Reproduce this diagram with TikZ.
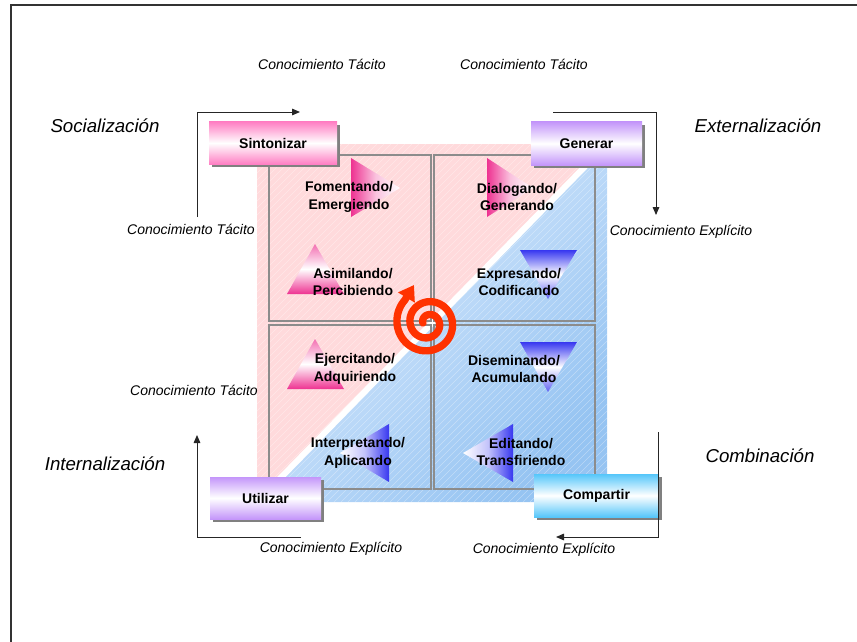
\documentclass[tikz,border=0pt]{standalone}
\usepackage{fontspec}
\setmainfont{Liberation Sans}
\usetikzlibrary{arrows.meta,shadows}

\definecolor{pinkbg}{RGB}{255,218,220}
\definecolor{bluelight}{RGB}{228,240,255}
\definecolor{bluedark}{RGB}{150,196,242}
\definecolor{gridgray}{RGB}{140,140,140}
\definecolor{shadowgray}{RGB}{128,128,128}
\definecolor{hotpink}{RGB}{238,50,145}
\definecolor{violetblue}{RGB}{55,55,240}
\definecolor{spiralred}{RGB}{255,50,0}
\definecolor{boxpink}{RGB}{255,128,196}
\definecolor{boxviolet}{RGB}{196,150,250}
\definecolor{boxcyan}{RGB}{85,198,250}

\begin{document}
\begin{tikzpicture}[x=0.75pt,y=0.75pt,yscale=-1,xscale=1,
  tag/.style={font=\fontsize{10.5}{12}\selectfont\itshape, inner sep=0.75pt},
  mode/.style={font=\fontsize{14}{16}\selectfont\itshape, inner sep=0.75pt},
  task/.style={font=\fontsize{10.5}{13}\selectfont\bfseries, align=center, inner sep=0.75pt},
  modebox/.style={font=\fontsize{10.5}{12}\selectfont\bfseries, inner sep=0pt,
    drop shadow={shadow xshift=2.2pt,shadow yshift=-2.2pt,fill=shadowgray,opacity=1}},
  flow/.style={draw=black!85, line width=0.7pt, -{Triangle[length=6pt,width=5pt]}},
  quad/.style={draw=gridgray, line width=1.4pt},
]
\useasboundingbox (0,0) rectangle (857,642);

%Frame
\draw [line width=1.5pt, black!80] (11,642) -- (11,5) -- (857,5) ;

%Background: pink and blue halves
\begin{scope}
\clip (257,144) rectangle (607,502);
\fill [pinkbg] (257,144) rectangle (607,502);
\shade [top color=bluelight, bottom color=bluedark, shading angle=45] (257,502) -- (607,144) -- (607,502) -- cycle;
\foreach \k in {-364,-357,...,364}
  \draw [white, opacity=0.35, line width=0.4pt] (257+\k,502) -- ++(358,-358);
\draw [white, line width=4.5pt] (257,502) -- (607,144);
\end{scope}

%Quadrants
\draw [quad] (269,155) rectangle (431,321);
\draw [quad] (434,155) rectangle (595,321);
\draw [quad] (269,325) rectangle (431,489);
\draw [quad] (434,325) rectangle (595,489);

%Triangles
\shade [left color=hotpink, right color=white, middle color=hotpink!30] (351,158) -- (351,217) -- (400,188) -- cycle;
\shade [left color=hotpink, right color=white, middle color=hotpink!30] (487,158) -- (487,217) -- (533,188) -- cycle;
\shade [top color=hotpink!70, bottom color=hotpink, middle color=white] (315,244) -- (344,294) -- (287,294) -- cycle;
\shade [top color=hotpink!70, bottom color=hotpink, middle color=white] (315,339) -- (344,389) -- (287,389) -- cycle;
\shade [top color=violetblue, bottom color=violetblue!80, middle color=white] (520,250) -- (577,250) -- (548,299) -- cycle;
\shade [top color=violetblue, bottom color=violetblue!80, middle color=white] (520,342) -- (577,342) -- (548,392) -- cycle;
\shade [left color=white, right color=violetblue, middle color=violetblue!30] (389,424) -- (389,482) -- (340,453) -- cycle;
\shade [left color=white, right color=violetblue, middle color=violetblue!30] (513,424) -- (513,482) -- (463,453) -- cycle;

% Text Node
\node [task] (fomentando) at (349,197) {Fomentando/\\Emergiendo};
\node [task] (asimilando) at (353,282) {Asimilando/\\Percibiendo};
\node [task] (dialogando) at (517,197) {Dialogando/\\Generando};
\node [task] (expresando) at (519,282) {Expresando/\\Codificando};
\node [task] (ejercitando) at (355,369) {Ejercitando/\\Adquiriendo};
\node [task] (diseminando) at (514,369) {Diseminando/\\Acumulando};
\node [task] (interpretando) at (358,453) {Interpretando/\\Aplicando};
\node [task] (editando) at (521,452) {Editando/\\Transfiriendo};

%Spiral
\coordinate (spiraltip) at (414,285);
\draw [spiralred, line width=5.5pt, line cap=round, -{Triangle[length=11pt,width=14pt]}]
  plot [domain=180:945, samples=160, smooth] ({428+(5+(\x-180)/720*26)*cos(\x)}, {323+(5+(\x-180)/720*26)*sin(\x)}) -- (spiraltip);

%Boxes
\node [modebox, minimum width=96pt, minimum height=31.5pt, top color=boxpink, bottom color=boxpink, middle color=white] (sintonizar) at (273,143) {Sintonizar};
\node [modebox, minimum width=83.25pt, minimum height=32.25pt, top color=boxviolet, bottom color=boxviolet, middle color=white] (generar) at (586.5,143.5) {Generar};
\node [modebox, minimum width=83.25pt, minimum height=31.5pt, top color=boxviolet, bottom color=boxviolet, middle color=white] (utilizar) at (265.5,498) {Utilizar};
\node [modebox, minimum width=93.75pt, minimum height=32.25pt, top color=boxcyan, bottom color=boxcyan, middle color=white] (compartir) at (596.5,495.5) {Compartir};

%Connectors
\coordinate (soc0) at (197,217);
\coordinate (soc1) at (300,112);
\coordinate (ext0) at (553,112);
\coordinate (ext1) at (656,215);
\coordinate (com0) at (658,432);
\coordinate (com1) at (556,537);
\coordinate (int0) at (301,537);
\coordinate (int1) at (197,435);
\draw [flow] (soc0) |- (soc1);
\draw [flow] (ext0) -| (ext1);
\draw [flow] (com0) |- (com1);
\draw [flow] (int0) -| (int1);

% Text Node
\node [tag] (tacito1) at (322,64) {Conocimiento Tácito};
\node [tag] (tacito2) at (524,64) {Conocimiento Tácito};
\node [tag] (tacito3) at (191,229) {Conocimiento Tácito};
\node [tag] (tacito4) at (194,390) {Conocimiento Tácito};
\node [tag] (explicito1) at (681,232) {Conocimiento Explícito};
\node [tag] (explicito2) at (331,549) {Conocimiento Explícito};
\node [tag] (explicito3) at (544,550) {Conocimiento Explícito};

% Text Node
\node [mode] (socializacion) at (105,126) {Socialización};
\node [mode] (externalizacion) at (758,126) {Externalización};
\node [mode] (internalizacion) at (105,464) {Internalización};
\node [mode] (combinacion) at (760,456) {Combinación};

\end{tikzpicture}
\end{document}
